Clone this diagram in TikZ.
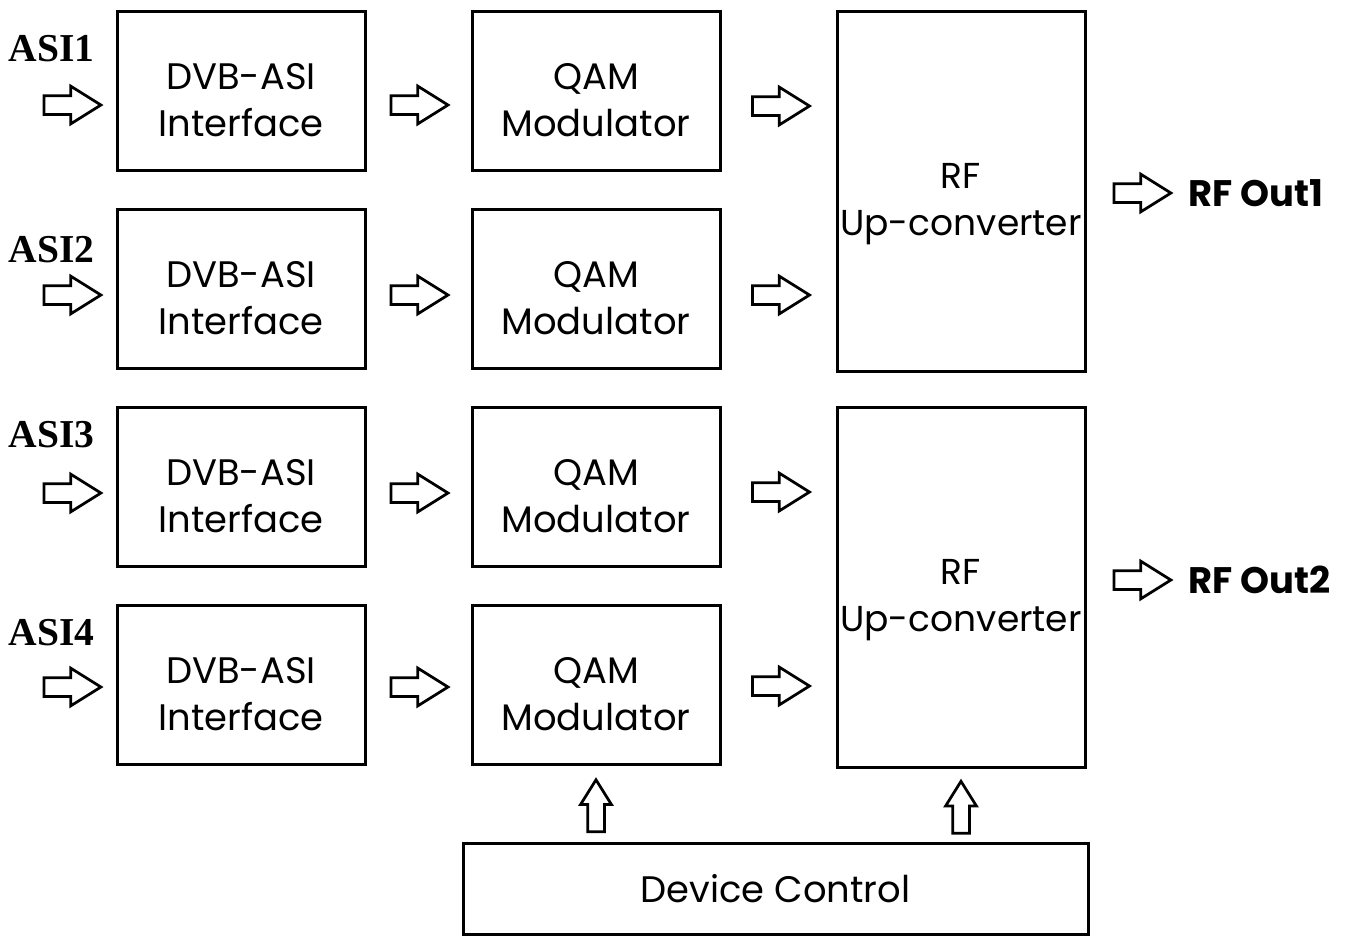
\documentclass[tikz,border=0pt]{standalone}
\usepackage{fontspec}
\setmainfont{Poppins}
\newfontfamily\asifont{Liberation Serif}
\usepackage{tikz}
\usetikzlibrary{positioning,shapes.arrows,calc}

% first lines sit lower in the boxes
\newcommand{\boxstrut}{\rule{0pt}{0.92cm}}
\newcommand{\tallstrut}{\rule{0pt}{1.04cm}}

\begin{document}
\begin{tikzpicture}[
      block/.style={rectangle, draw, line width=0.06cm, minimum width=4.96cm, minimum height=3.18cm, align=center, font=\fontsize{21}{26.6}\selectfont},
      tall/.style={block, minimum height=7.2cm, inner xsep=0pt, font=\fontsize{20.5}{26.6}\selectfont},
      hollow/.style={single arrow, draw, line width=0.055cm, inner xsep=0pt, inner ysep=0.16cm, minimum height=1.14cm, single arrow head extend=0.19cm, single arrow tip angle=64},
      uparrow/.style={hollow, rotate=90, minimum height=1.04cm, inner ysep=0.14cm, single arrow head extend=0.14cm},
      inlabel/.style={inner sep=0pt, anchor=base west, font=\asifont\bfseries\fontsize{22.5}{24}\selectfont},
      outlabel/.style={inner sep=0pt, font=\bfseries\fontsize{21}{24}\selectfont}
    ]
    \useasboundingbox (0,0) rectangle (26.96,-18.72);

    \node [block] (dvb1) at (4.82,-1.81) {\boxstrut DVB-ASI\\Interface};
    \node [block, below of=dvb1, node distance=3.96cm] (dvb2) {\boxstrut DVB-ASI\\Interface};
    \node [block, below of=dvb2, node distance=3.96cm] (dvb3) {\boxstrut DVB-ASI\\Interface};
    \node [block, below of=dvb3, node distance=3.96cm] (dvb4) {\boxstrut DVB-ASI\\Interface};
    \node [block, right of=dvb1, node distance=7.1cm] (qam1) {\boxstrut QAM\\Modulator};
    \node [block, right of=dvb2, node distance=7.1cm] (qam2) {\boxstrut QAM\\Modulator};
    \node [block, right of=dvb3, node distance=7.1cm] (qam3) {\boxstrut QAM\\Modulator};
    \node [block, right of=dvb4, node distance=7.1cm] (qam4) {\boxstrut QAM\\Modulator};
    \node [tall, below right=0cm and 2.28cm of qam1.north east] (rf1) {\tallstrut RF\\Up-converter};
    \node [tall, below right=0cm and 2.28cm of qam3.north east] (rf2) {\tallstrut RF\\Up-converter};
    \node [block, minimum width=12.5cm, minimum height=1.82cm] (ctrl) at (15.51,-17.77) {Device Control};

    \node [inlabel] (asi1) at ($(dvb1.north west)+(-2.14,-1.04)$) {ASI1};
    \node [inlabel] (asi2) at ($(dvb2.north west)+(-2.14,-1.10)$) {ASI2};
    \node [inlabel] (asi3) at ($(dvb3.north west)+(-2.14,-0.84)$) {ASI3};
    \node [inlabel] (asi4) at ($(dvb4.north west)+(-2.14,-0.84)$) {ASI4};

    \node [hollow, left=0.24cm of dvb1, yshift=-0.29cm] (in1) {};
    \node [hollow, left=0.24cm of dvb2, yshift=-0.13cm] (in2) {};
    \node [hollow, left=0.24cm of dvb3, yshift=-0.13cm] (in3) {};
    \node [hollow, left=0.24cm of dvb4, yshift=-0.05cm] (in4) {};

    \node [hollow] (mid1) at ($(dvb1.east)!0.5!(qam1.west)+(-0.13,-0.29)$) {};
    \node [hollow] (mid2) at ($(dvb2.east)!0.5!(qam2.west)+(-0.13,-0.13)$) {};
    \node [hollow] (mid3) at ($(dvb3.east)!0.5!(qam3.west)+(-0.13,-0.13)$) {};
    \node [hollow] (mid4) at ($(dvb4.east)!0.5!(qam4.west)+(-0.13,-0.05)$) {};

    \node [hollow] (mod1) at ($(qam1.east)!0.5!(qam1.east -| rf1.west)+(-0.1,-0.31)$) {};
    \node [hollow] (mod2) at ($(qam2.east)!0.5!(qam2.east -| rf1.west)+(-0.1,-0.13)$) {};
    \node [hollow] (mod3) at ($(qam3.east)!0.5!(qam3.east -| rf2.west)+(-0.1,-0.11)$) {};
    \node [hollow] (mod4) at ($(qam4.east)!0.5!(qam4.east -| rf2.west)+(-0.1,-0.03)$) {};

    \node [hollow, right=0.52cm of rf1, yshift=-0.04cm] (out1) {};
    \node [hollow, right=0.52cm of rf2, yshift=0.14cm] (out2) {};
    \node [outlabel, right=0.3cm of out1] (rfout1) {RF Out1};
    \node [outlabel, right=0.3cm of out2] (rfout2) {RF Out2};

    \node [uparrow] (up1) at ($(qam4.south)!0.5!(qam4.south |- ctrl.north)+(0,-0.18)$) {};
    \node [uparrow] (up2) at ($(rf2.south)!0.5!(rf2.south |- ctrl.north)+(0,-0.18)$) {};

    \end{tikzpicture}
\end{document}
